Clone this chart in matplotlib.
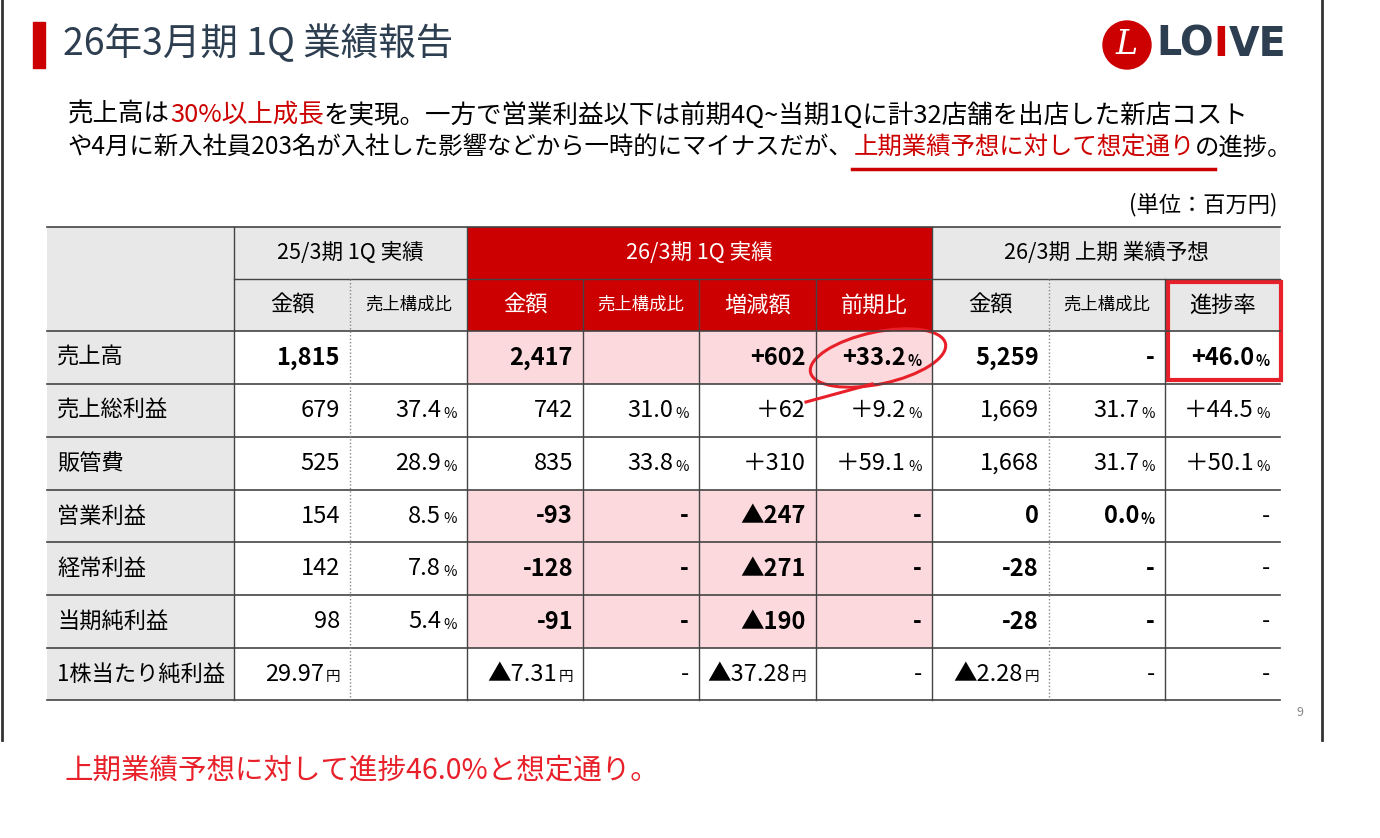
import matplotlib.pyplot as plt
from matplotlib.patches import Rectangle, Ellipse

plt.rcParams['font.family'] = 'Noto Sans CJK JP'

RED = '#cc0000'
NAVY = '#2d3e50'
PINK = '#fcd9dc'
GRAY = '#e8e8e8'

title = '26年3月期 1Q 業績報告'
row_labels = ['売上高', '売上総利益', '販管費', '営業利益', '経常利益', '当期純利益', '1株当たり純利益']
group_labels = ['25/3期 1Q 実績', '26/3期 1Q 実績', '26/3期 上期 業績予想']
sub_labels = ['金額', '売上構成比', '金額', '売上構成比', '増減額', '前期比', '金額', '売上構成比', '進捗率']

prev_amt = ['1,815', '679', '525', '154', '142', '98', '29.97円']
prev_ratio = ['', '37.4%', '28.9%', '8.5%', '7.8%', '5.4%', '']
cur_amt = ['2,417', '742', '835', '-93', '-128', '-91', '▲7.31円']
cur_ratio = ['', '31.0%', '33.8%', '-', '-', '-', '-']
cur_diff = ['+602', '+62', '+310', '▲247', '▲271', '▲190', '▲37.28円']
cur_yoy = ['+33.2%', '+9.2%', '+59.1%', '-', '-', '-', '-']
fc_amt = ['5,259', '1,669', '1,668', '0', '-28', '-28', '▲2.28円']
fc_ratio = ['-', '31.7%', '31.7%', '0.0%', '-', '-', '-']
fc_prog = ['+46.0%', '+44.5%', '+50.1%', '-', '-', '-', '-']
columns = [prev_amt, prev_ratio, cur_amt, cur_ratio, cur_diff, cur_yoy, fc_amt, fc_ratio, fc_prog]

fig = plt.figure(figsize=(13.8, 8.38), dpi=100)
ax = fig.add_axes([0, 0, 1, 1])
ax.set_xlim(0, 1380)
ax.set_ylim(838, 0)
ax.axis('off')
renderer = fig.canvas.get_renderer()


def draw_pieces(x, y, pieces, fs, **kw):
    spans = []
    for txt, col in pieces:
        t = ax.text(x, y, txt, fontsize=fs, color=col, va='center', **kw)
        w = t.get_window_extent(renderer).width
        spans.append((x, x + w))
        x += w
    return spans


# slide frame
ax.plot([2, 2], [0, 740], color='#333333', lw=2)
ax.plot([1322, 1322], [0, 740], color='#333333', lw=2)
ax.add_patch(Rectangle((33, 22), 12, 46, color=RED))
ax.text(63, 45, title, fontsize=27, color=NAVY, va='center')

# logo
ax.add_patch(Ellipse((1127, 45), 48, 48, color=RED))
ax.text(1127, 45, 'L', fontsize=24, color='white', va='center', ha='center', style='italic', family='DejaVu Serif')
draw_pieces(1156, 45, [('LO', NAVY), ('I', RED), ('VE', NAVY)], 28.5, weight='bold', family='DejaVu Sans')

# intro text with coloured pieces
draw_pieces(68, 115, [('売上高は', 'black'), ('30%以上成長', RED),
                      ('を実現。一方で営業利益以下は前期4Q~当期1Qに計32店舗を出店した新店コスト', 'black')], 18.4)
spans = draw_pieces(68, 148, [('や4月に新入社員203名が入社した影響などから一時的にマイナスだが、', 'black'),
                              ('上期業績予想に対して想定通り', RED), ('の進捗。', 'black')], 17.6)
ax.plot([spans[1][0] - 2, spans[1][1] + 20], [169, 169], color=RED, lw=2.5)
ax.text(1277, 205, '(単位：百万円)', fontsize=16, ha='right', va='center')

# table geometry
xs = [47, 234, 350, 467, 583, 699, 816, 932, 1049, 1165, 1280]
ys = [227, 279, 331, 384, 437, 490, 542, 595, 648, 700]

# header backgrounds
ax.add_patch(Rectangle((xs[0], ys[0]), xs[1] - xs[0], ys[-1] - ys[0], color=GRAY, lw=0))
ax.add_patch(Rectangle((xs[1], ys[0]), xs[3] - xs[1], ys[2] - ys[0], color=GRAY, lw=0))
ax.add_patch(Rectangle((xs[3], ys[0]), xs[7] - xs[3], ys[2] - ys[0], color=RED, lw=0))
ax.add_patch(Rectangle((xs[7], ys[0]), xs[10] - xs[7], ys[2] - ys[0], color=GRAY, lw=0))

# pink cells
for r in [0, 3, 4, 5]:
    ax.add_patch(Rectangle((xs[3], ys[r + 2]), xs[7] - xs[3], ys[r + 3] - ys[r + 2], color=PINK, lw=0))

# grid lines
for i, y in enumerate(ys):
    if i == 1:
        ax.plot([xs[1], xs[10]], [y, y], color='#444444', lw=1)
    else:
        ax.plot([xs[0], xs[10]], [y, y], color='#444444', lw=1.2)
for i, x in enumerate(xs):
    if i in (2, 8):
        ax.plot([x, x], [ys[1], ys[-1]], color='#888888', lw=1, ls=(0, (1, 1.5)))
    elif i in (4, 5, 6, 9):
        ax.plot([x, x], [ys[1], ys[-1]], color='#444444', lw=1)
    elif i in (1, 3, 7):
        ax.plot([x, x], [ys[0], ys[-1]], color='#444444', lw=1)

# headers
for g, lbl in enumerate(group_labels):
    x0, x1 = [(xs[1], xs[3]), (xs[3], xs[7]), (xs[7], xs[10])][g]
    ax.text((x0 + x1) / 2, (ys[0] + ys[1]) / 2, lbl, fontsize=15.5, ha='center', va='center',
            color='white' if g == 1 else 'black')
for c, lbl in enumerate(sub_labels):
    fs = 12.5 if lbl == '売上構成比' else 16
    ax.text((xs[c + 1] + xs[c + 2]) / 2, (ys[1] + ys[2]) / 2, lbl, fontsize=fs, ha='center', va='center',
            color='white' if 2 <= c <= 5 else 'black')

# body
for r, lbl in enumerate(row_labels):
    yc = (ys[r + 2] + ys[r + 3]) / 2
    ax.text(xs[0] + 10, yc, lbl, fontsize=16, va='center')
    for c, col in enumerate(columns):
        val = col[r]
        if not val:
            continue
        bold = r == 0 or (3 <= r <= 5 and 2 <= c <= 7)
        w = 'bold' if bold else 'normal'
        xr = xs[c + 2] - 10
        if val[-1] in '%円':
            ax.text(xr, yc + 3, val[-1], fontsize=10.5, ha='right', va='center', weight=w)
            xr -= 16
            val = val[:-1]
        ax.text(xr, yc, val.replace('+', '＋') if not bold else val, fontsize=17, ha='right', va='center', weight=w)

# annotations
ax.add_patch(Ellipse((878, 358), 138, 52, angle=-12, fill=False, ec='#e8202a', lw=2.2))
ax.plot([806, 872], [402, 384], color='#e8202a', lw=2.2)
ax.add_patch(Rectangle((1168, 282), 113, 98, fill=False, ec='#e8202a', lw=3))

ax.text(1300, 712, '9', fontsize=9, color='#888888', ha='center', va='center')
ax.text(65, 770, '上期業績予想に対して進捗46.0%と想定通り。', fontsize=20.5, color='#e8202a', va='center')

fig.savefig('out.png', dpi=100)
